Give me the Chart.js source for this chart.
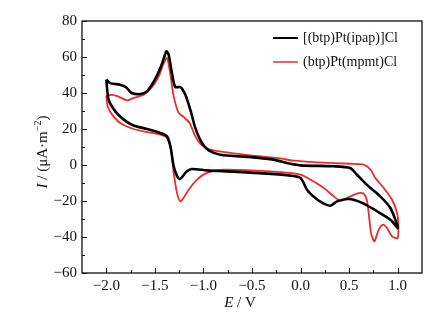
<!DOCTYPE html>
<html>
<head>
<meta charset="utf-8">
<script src="https://cdn.jsdelivr.net/npm/chart.js@4.4.1/dist/chart.umd.min.js"></script>
<style>
  html, body { margin: 0; padding: 0; background: #fff; }
  #wrap { width: 445px; height: 326px; }
</style>
</head>
<body>
<div id="wrap"><canvas id="cv"></canvas></div>
<script>
// Series names
const seriesNames = ["[(btp)Pt(ipap)]Cl", "(btp)Pt(mpmt)Cl"];

// [(btp)Pt(ipap)]Cl - potential (V) and current, one closed loop
const blackE = [-2.0, -1.96, -1.86, -1.80, -1.74, -1.65, -1.58, -1.50, -1.43, -1.382, -1.358, -1.324, -1.29, -1.238, -1.186, -1.135, -1.083, -1.015, -0.946, -0.826, -0.517, -0.277, -0.14, 0.0, 0.34, 0.51, 0.58, 0.68, 0.82, 0.925, 1.0,
  1.0, 0.925, 0.787, 0.65, 0.547, 0.48, 0.376, 0.307, 0.24, 0.152, 0.066, 0.0, -0.105, -0.345, -0.69, -0.963, -1.118, -1.17, -1.22, -1.245, -1.27, -1.306, -1.34, -1.375, -1.444, -1.58, -1.72, -1.82, -1.907, -1.976, -2.0];
const blackI = [47.5, 45.5, 44.6, 43.3, 40, 39.4, 41, 47.4, 55.7, 63.1, 61.3, 51, 43.3, 43.3, 39, 30.7, 20.5, 12.2, 8.1, 5.7, 4.4, 3, 1.1, -0.2, -0.7, -1.7, -5.4, -10.9, -17.4, -23.9, -34,
  -35, -30.4, -25.7, -21.5, -19.3, -18.9, -20.2, -22.6, -21.5, -18.3, -13.7, -7.2, -5.9, -4.8, -3.7, -3, -2.2, -3.5, -6.7, -7.8, -6.3, -0.7, 10.4, 15.9, 17.8, 20, 21.9, 25.2, 29.8, 36.3, 47.5];

// (btp)Pt(mpmt)Cl
const redE = [-2.0, -1.94, -1.873, -1.787, -1.72, -1.615, -1.53, -1.46, -1.41, -1.375, -1.348, -1.306, -1.255, -1.204, -1.142, -1.083, -1.015, -0.895, -0.517, -0.242, -0.071, 0.17, 0.51, 0.65, 0.72, 0.77, 0.857, 0.942, 1.0,
  1.0, 0.942, 0.89, 0.85, 0.805, 0.76, 0.726, 0.685, 0.65, 0.6, 0.513, 0.41, 0.34, 0.24, 0.1, 0.0, -0.174, -0.517, -0.79, -0.963, -1.066, -1.152, -1.204, -1.238, -1.272, -1.306, -1.334, -1.375, -1.444, -1.58, -1.72, -1.856, -1.94, -1.986, -2.0];
const redI = [38.5, 39, 38, 35.9, 37.2, 39, 43.3, 49.3, 56.3, 59.4, 53, 38.1, 28.9, 26.7, 23.3, 15.9, 10.9, 8.1, 5.4, 3.9, 2.4, 1.5, 0.7, 0.2, -2.6, -7.2, -12.8, -19.3, -28.5,
  -40.6, -39.6, -35, -33.1, -35.9, -42.4, -37.8, -20.2, -15.9, -15.6, -17.4, -19.8, -17.4, -12.8, -8.1, -5.4, -4.1, -3, -2.6, -4.4, -8.1, -13.7, -18.3, -20.2, -15.6, -4.4, 8.5, 15, 16.9, 18.3, 20, 23.3, 28, 32.6, 38.5];

// Axis ticks
const xTicks = [-2.0, -1.5, -1.0, -0.5, 0.0, 0.5, 1.0];
const yTicks = [-60, -40, -20, 0, 20, 40, 60, 80];

const seriesColors = ["#000000", "#ee2a2a"];
const FONT = "'Liberation Serif', 'Times New Roman', serif";

function toPoints(xs, ys) {
  return xs.map((x, i) => ({ x: x, y: ys[i] }));
}
function minusFmt(s) {
  return String(s).replace("-", "\u2212");
}

// Frame, inward ticks, legend and axis titles
const decorPlugin = {
  id: "decor",
  afterDraw(chart) {
    const ctx = chart.ctx;
    const a = chart.chartArea;
    const xs = chart.scales.x, ys = chart.scales.y;
    ctx.save();
    ctx.strokeStyle = "#111";
    ctx.lineWidth = 1.3;
    ctx.strokeRect(a.left, a.top, a.right - a.left, a.bottom - a.top);

    ctx.lineWidth = 1;
    // x ticks (major + minor)
    for (let i = 0; i < xTicks.length; i++) {
      const px = Math.round(xs.getPixelForValue(xTicks[i])) + 0.5;
      ctx.beginPath(); ctx.moveTo(px, a.bottom); ctx.lineTo(px, a.bottom - 5); ctx.stroke();
      if (i < xTicks.length - 1) {
        const mx = Math.round(xs.getPixelForValue((xTicks[i] + xTicks[i + 1]) / 2)) + 0.5;
        ctx.beginPath(); ctx.moveTo(mx, a.bottom); ctx.lineTo(mx, a.bottom - 3); ctx.stroke();
      }
    }
    // y ticks
    for (let i = 0; i < yTicks.length; i++) {
      const py = Math.round(ys.getPixelForValue(yTicks[i])) + 0.5;
      ctx.beginPath(); ctx.moveTo(a.left, py); ctx.lineTo(a.left + 5, py); ctx.stroke();
      if (i < yTicks.length - 1) {
        const my = Math.round(ys.getPixelForValue((yTicks[i] + yTicks[i + 1]) / 2)) + 0.5;
        ctx.beginPath(); ctx.moveTo(a.left, my); ctx.lineTo(a.left + 3, my); ctx.stroke();
      }
    }

    // legend
    ctx.font = "14px " + FONT;
    ctx.textBaseline = "middle";
    ctx.textAlign = "left";
    const rows = [38, 62];
    seriesNames.forEach((name, i) => {
      ctx.strokeStyle = seriesColors[i];
      ctx.lineWidth = i === 0 ? 2 : 1.5;
      ctx.beginPath(); ctx.moveTo(273, rows[i]); ctx.lineTo(298, rows[i]); ctx.stroke();
      ctx.fillStyle = "#111";
      ctx.fillText(name, 303, rows[i]);
    });

    // x axis title
    ctx.font = "italic 15px " + FONT;
    const t1 = "E", t2 = " / V";
    const w1 = ctx.measureText(t1).width;
    ctx.font = "15px " + FONT;
    const w2 = ctx.measureText(t2).width;
    let sx = 240 - (w1 + w2) / 2;
    ctx.textBaseline = "middle";
    ctx.font = "italic 15px " + FONT;
    ctx.fillText(t1, sx, 303);
    ctx.font = "15px " + FONT;
    ctx.fillText(t2, sx + w1, 303);

    // y axis title (rotated)
    ctx.translate(43, 152);
    ctx.rotate(-Math.PI / 2);
    const parts = [
      { t: "I", f: "italic 15px " + FONT, dy: 0 },
      { t: " / (\u03bcA\u00b7m", f: "15px " + FONT, dy: 0 },
      { t: "\u22122", f: "10px " + FONT, dy: -5 },
      { t: ")", f: "15px " + FONT, dy: 0 }
    ];
    let total = 0;
    parts.forEach(p => { ctx.font = p.f; p.w = ctx.measureText(p.t).width; total += p.w; });
    let cx = -total / 2;
    parts.forEach(p => {
      ctx.font = p.f;
      ctx.fillText(p.t, cx, p.dy);
      cx += p.w;
    });
    ctx.restore();
  }
};

new Chart(document.getElementById("cv"), {
  type: "scatter",
  data: {
    datasets: [
      {
        label: seriesNames[0],
        data: toPoints(blackE, blackI),
        showLine: true,
        borderColor: seriesColors[0],
        borderWidth: 2.6,
        pointRadius: 0,
        tension: 0.25,
      },
      {
        label: seriesNames[1],
        data: toPoints(redE, redI),
        showLine: true,
        borderColor: seriesColors[1],
        borderWidth: 1.8,
        pointRadius: 0,
        tension: 0.25,
      },
    ],
  },
  options: {
    responsive: true,
    maintainAspectRatio: false,
    animation: false,
    layout: { padding: { left: 0, right: 23, top: 21, bottom: 0 } },
    plugins: { legend: { display: false }, tooltip: { enabled: false } },
    scales: {
      x: {
        type: "linear",
        min: -2.25,
        max: 1.25,
        grid: { display: false, drawTicks: false },
        border: { display: false },
        afterBuildTicks: (s) => { s.ticks = xTicks.map(v => ({ value: v })); },
        afterFit: (s) => { s.height = 53; },
        ticks: {
          padding: 4,
          color: "#111",
          font: { family: FONT, size: 15 },
          callback: (v) => minusFmt(Number(v).toFixed(1)),
        },
      },
      y: {
        min: -60,
        max: 80,
        grid: { display: false, drawTicks: false },
        border: { display: false },
        afterBuildTicks: (s) => { s.ticks = yTicks.map(v => ({ value: v })); },
        afterFit: (s) => { s.width = 82; },
        ticks: {
          padding: 5,
          color: "#111",
          font: { family: FONT, size: 15 },
          callback: (v) => minusFmt(v),
        },
      },
    },
  },
  plugins: [decorPlugin],
});
</script>
</body>
</html>
